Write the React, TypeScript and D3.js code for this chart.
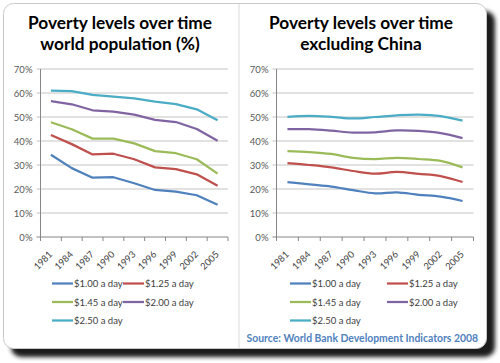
import React from "react";
import * as d3 from "d3";

const years = ["1981", "1984", "1987", "1990", "1993", "1996", "1999", "2002", "2005"];
const seriesNames = ["$1.00 a day", "$1.25 a day", "$1.45 a day", "$2.00 a day", "$2.50 a day"];
const seriesColors = ["#4F81BD", "#C0504D", "#9BBB59", "#8064A2", "#4BACC6"];
const yTicks = [0, 10, 20, 30, 40, 50, 60, 70];

// world population (%)
const world100 = [34.3, 28.7, 24.7, 24.9, 22.4, 19.6, 18.9, 17.4, 13.4];
const world125 = [42.5, 38.7, 34.4, 34.7, 32.4, 29.0, 28.3, 26.1, 21.4];
const world145 = [47.8, 44.9, 41.0, 41.0, 39.0, 35.8, 34.9, 32.4, 26.4];
const world200 = [56.6, 55.3, 52.8, 52.2, 51.0, 48.8, 47.9, 45.0, 40.1];
const world250 = [61.0, 60.8, 59.2, 58.5, 57.8, 56.4, 55.4, 53.2, 48.6];

// excluding China (%)
const exChina100 = [22.9, 21.9, 21.0, 19.5, 18.2, 18.6, 17.6, 16.8, 15.0];
const exChina125 = [30.8, 30.0, 29.0, 27.5, 26.4, 27.1, 26.3, 25.4, 22.9];
const exChina145 = [35.8, 35.4, 34.6, 33.0, 32.5, 33.0, 32.5, 31.7, 29.0];
const exChina200 = [44.9, 44.9, 44.3, 43.5, 43.6, 44.4, 44.2, 43.3, 41.2];
const exChina250 = [50.1, 50.5, 50.1, 49.4, 50.0, 50.7, 51.0, 50.4, 48.5];

const FONT = "Lato, 'Open Sans', sans-serif";

const Panel = ({ title, series, x0, x1, cx, legendX, curve }) => {
	const x = d3.scaleBand().domain(years).range([x0, x1]).padding(0);
	const y = d3.scaleLinear().domain([0, 70]).range([237, 69]);
	const line = d3
		.line()
		.x((d, i) => x(years[i]) + x.bandwidth() / 2)
		.y((d) => y(d))
		.curve(curve);
	const bounds = years.map((yr) => x(yr)).concat([x1]);
	const legendRows = [283.5, 302, 320.5];

	return (
		<g>
			<text x={cx} y={29} textAnchor="middle" fontFamily={FONT} fontWeight="bold" fontSize={17.3} fill="#000">
				{title[0]}
			</text>
			<text x={cx} y={50} textAnchor="middle" fontFamily={FONT} fontWeight="bold" fontSize={17.3} fill="#000">
				{title[1]}
			</text>

			{yTicks.map((t) => (
				<g key={t}>
					<line x1={x0 - 4} x2={x1} y1={y(t)} y2={y(t)} stroke={t === 0 ? "#868686" : "#c4c4c4"} strokeWidth={1} />
					<text x={x0 - 8} y={y(t) + 3.5} textAnchor="end" fontFamily={FONT} fontSize={9.5} fill="#595959">
						{t}%
					</text>
				</g>
			))}
			<line x1={x0} x2={x0} y1={y(70)} y2={y(0)} stroke="#868686" />
			{bounds.map((b, i) => (
				<line key={i} x1={b} x2={b} y1={y(0)} y2={y(0) + 4} stroke="#868686" />
			))}
			{years.map((yr) => (
				<text
					key={yr}
					transform={`translate(${x(yr) + x.bandwidth() / 2 + 2},255) rotate(-45)`}
					textAnchor="end"
					fontFamily={FONT}
					fontSize={9.3}
					fill="#404040"
				>
					{yr}
				</text>
			))}

			{series.map((s, i) => (
				<path key={i} d={line(s)} fill="none" stroke={seriesColors[i]} strokeWidth={2.25} strokeLinejoin="round" />
			))}

			{seriesNames.map((name, i) => {
				const lx = legendX[i % 2];
				const ly = legendRows[Math.floor(i / 2)];
				return (
					<g key={name}>
						<line x1={lx} x2={lx + 21} y1={ly} y2={ly} stroke={seriesColors[i]} strokeWidth={2.25} />
						<text x={lx + 22} y={ly + 3.5} fontFamily={FONT} fontSize={9.5} fill="#404040">
							{name}
						</text>
					</g>
				);
			})}
		</g>
	);
};

export default function App() {
	return (
		<svg width={500} height={363} style={{ position: "absolute", left: 0, top: 0, background: "#fff" }}>
			<defs>
				<filter id="shadow" x="-10%" y="-10%" width="120%" height="120%">
					<feGaussianBlur stdDeviation={2} />
				</filter>
			</defs>
			<rect x={11} y={11} width={484} height={346} rx={10} fill="#1e1e1e" filter="url(#shadow)" />
			<rect x={3.5} y={3.5} width={483} height={345} rx={10} fill="#fff" stroke="#c8c8c8" />
			<line x1={239} x2={239} y1={4} y2={348} stroke="#d9d9d9" />

			<Panel
				title={["Poverty levels over time", "world population (%)"]}
				series={[world100, world125, world145, world200, world250]}
				x0={40.5}
				x1={228}
				cx={120}
				legendX={[52, 123]}
				curve={d3.curveLinear}
			/>
			<Panel
				title={["Poverty levels over time", "excluding China"]}
				series={[exChina100, exChina125, exChina145, exChina200, exChina250]}
				x0={276.5}
				x1={473.5}
				cx={361}
				legendX={[290, 387]}
				curve={d3.curveCatmullRom}
			/>

			<text x={478} y={342} textAnchor="end" fontFamily={FONT} fontWeight="bold" fontSize={10.4} fill="#4F81BD">
				Source: World Bank Development Indicators 2008
			</text>
		</svg>
	);
}
